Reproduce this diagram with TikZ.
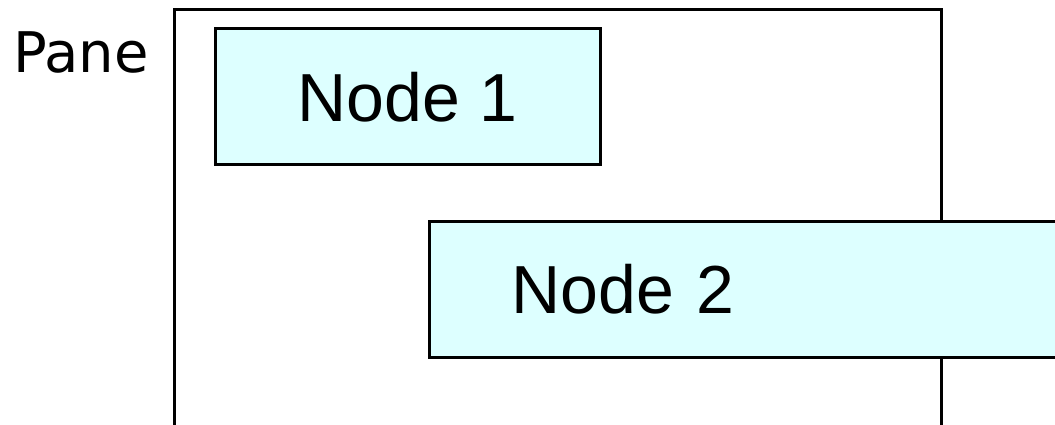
\documentclass[tikz,border=0pt]{standalone}
\usepackage{fontspec}
\setmainfont{Liberation Sans}
\newfontfamily\panefont{DejaVu Sans}
\definecolor{nodefill}{RGB}{221,255,255}
\begin{document}
\begin{tikzpicture}[x=1pt,y=-1pt,
  frame/.style={draw=black, line width=3pt, inner sep=0pt},
  box/.style={draw=black, line width=3pt, fill=nodefill, inner sep=0pt,
              font=\fontsize{68}{80}\selectfont},
  caption/.style={font=\panefont\fontsize{56}{60}\selectfont, inner sep=0pt}]
\useasboundingbox (0,0) rectangle (1055,425);
\clip (0,0) rectangle (1055,425);

% the pane: open at the bottom, runs past the lower edge
\node[frame, anchor=north west, minimum width=767pt, minimum height=500pt] (pane) at (173,8) {};
\node[caption, anchor=base west] (panelabel) at (13,73) {Pane};

% child nodes
\node[box, minimum width=385pt, minimum height=136pt] (n1) at (407.5,97) {Node 1};
\node[box, anchor=west, minimum height=136pt, inner xsep=82pt,
      text width=478pt, align=left] (n2) at (428,289) {Node 2};
\end{tikzpicture}
\end{document}
